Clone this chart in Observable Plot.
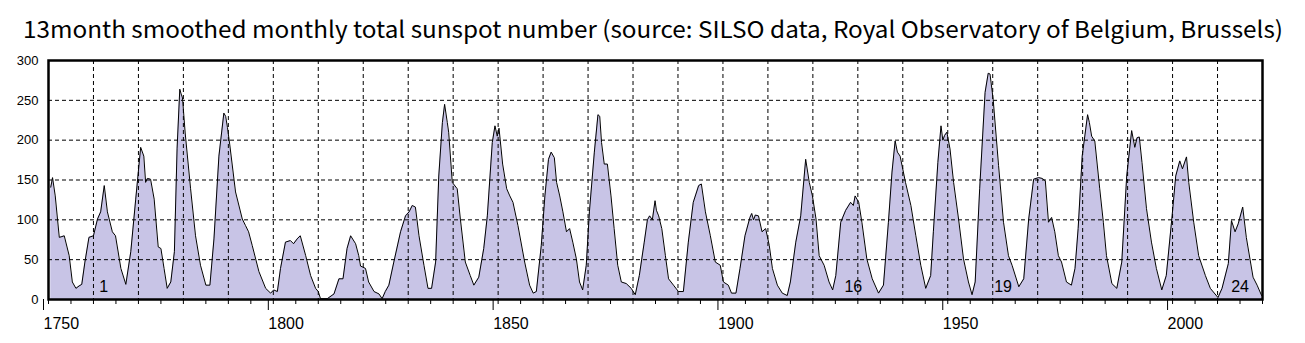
<!DOCTYPE html>
<html><head><meta charset="utf-8">
<script src="https://cdn.jsdelivr.net/npm/d3@7"></script>
<script src="https://cdn.jsdelivr.net/npm/@observablehq/plot@0.6"></script>
<style>body{margin:0;background:#fff} svg{display:block}</style>
</head><body>
<svg id="title" width="1305" height="50"><text x="23" y="38" textLength="1260" lengthAdjust="spacingAndGlyphs" font-family="Noto Sans CJK JP" font-size="23" fill="#000">13month smoothed monthly total sunspot number (source: SILSO data, Royal Observatory of Belgium, Brussels)</text></svg>
<div id="chart"></div>
<script>
const years = [
1750.5,1750.9,1751.5,1752.4,1753.0,1753.5,1754.6,1755.3,1756.1,1756.8,1757.4,1758.1,1759.0,1760.0,1760.9,1761.6,1762.4,1763.1,1764.2,1764.9,
1766.1,1767.2,1768.3,1769.4,1770.5,1771.2,1771.6,1772.0,1772.7,1773.5,1774.4,1775.0,1775.7,1776.4,1777.2,1778.0,1778.6,1779.2,1779.5,1779.8,
1780.4,1781.6,1782.7,1783.8,1785.0,1785.9,1786.8,1787.9,1789.0,1789.4,1789.8,1790.3,1791.6,1793.1,1793.8,1794.5,1795.3,1796.8,1798.3,1799.4,
1800.1,1800.9,1801.6,1802.7,1803.8,1804.5,1805.3,1806.0,1807.2,1808.3,1809.4,1810.0,1810.5,1812.0,1813.5,1814.6,1815.5,1816.4,1817.2,1818.3,
1819.0,1819.4,1820.5,1821.2,1822.4,1823.5,1824.2,1824.9,1825.7,1826.8,1828.3,1829.4,1830.2,1830.9,1831.6,1832.4,1833.5,1834.4,1835.2,1836.1,
1836.8,1837.6,1838.1,1838.7,1839.0,1839.8,1840.9,1841.6,1842.7,1843.8,1844.6,1845.7,1846.8,1847.6,1848.7,1849.3,1849.8,1850.2,1851.0,1851.9,
1852.6,1853.3,1854.4,1855.9,1857.0,1857.8,1858.5,1859.6,1860.4,1861.2,1861.8,1862.5,1863.0,1863.7,1864.4,1865.2,1865.9,1866.6,1867.4,1868.1,
1868.8,1869.6,1870.3,1871.4,1872.2,1872.6,1873.0,1873.6,1874.3,1875.1,1875.8,1876.6,1877.4,1878.5,1879.6,1880.5,1881.4,1882.5,1883.2,1883.7,
1884.3,1884.9,1885.2,1885.7,1886.4,1887.2,1887.9,1889.0,1890.1,1891.2,1892.3,1893.4,1894.6,1895.2,1896.1,1897.2,1898.3,1899.4,1900.1,1901.2,
1901.9,1902.9,1903.8,1904.9,1906.0,1906.4,1906.8,1907.2,1907.9,1908.7,1909.5,1910.3,1911.0,1912.1,1913.2,1914.3,1915.0,1916.2,1917.3,1918.4,
1919.2,1919.9,1920.7,1921.4,1922.5,1923.6,1924.4,1925.1,1926.2,1927.3,1928.4,1929.0,1929.4,1930.2,1930.9,1932.0,1933.2,1934.6,1935.7,1936.8,
1937.6,1938.3,1938.8,1939.4,1940.6,1941.8,1942.9,1944.0,1945.1,1946.2,1946.8,1947.8,1948.5,1948.9,1949.3,1949.8,1950.5,1951.3,1952.4,1953.5,
1954.6,1955.4,1956.1,1957.1,1958.3,1959.0,1959.4,1960.1,1961.3,1962.4,1963.5,1964.3,1965.8,1966.9,1968.0,1969.1,1970.2,1971.0,1971.7,1972.4,
1973.1,1973.8,1974.6,1975.3,1976.4,1977.5,1978.3,1979.0,1979.9,1981.1,1981.5,1982.0,1982.7,1983.8,1984.6,1985.3,1986.5,1987.6,1988.7,1989.8,
1990.9,1991.6,1992.1,1992.6,1993.2,1994.2,1995.3,1996.4,1997.6,1998.6,1999.9,2000.7,2001.6,2002.2,2003.1,2003.6,2004.7,2005.8,2007.3,2008.4,
2010.1,2011.0,2012.4,2013.1,2013.9,2014.6,2015.6,2016.4,2017.9,2018.8,2019.8
];
const ssn = [
141,153,130,78,79,80,55,22,14,17,19,47,78,80,101,110,143,110,85,80,
39,19,60,126,191,180,147,152,151,126,66,64,39,14,22,60,190,264,258,253,
209,139,80,43,18,18,76,180,234,230,216,195,135,101,93,85,68,35,14,8,
12,10,39,72,74,70,76,80,55,30,14,10,1,1,7,26,26,64,80,70,
55,42,39,22,10,7,1,10,18,47,85,105,110,118,116,80,43,14,14,47,
155,222,245,222,210,147,139,101,47,30,18,28,64,105,197,218,205,215,170,139,
130,122,93,47,18,8,10,68,130,176,185,178,147,130,110,85,89,72,51,22,
12,43,110,185,232,230,197,170,170,130,89,43,22,20,14,6,30,72,100,105,
100,124,112,105,89,55,26,18,10,10,72,122,143,145,110,80,47,43,22,18,
8,8,39,80,103,108,100,106,105,85,89,68,39,18,8,5,22,72,105,176,
147,130,101,55,43,22,12,30,97,112,122,118,130,122,97,51,26,8,18,97,
160,199,185,180,147,118,80,43,14,30,85,172,218,200,206,210,189,147,101,51,
22,6,22,139,260,284,283,251,168,97,55,43,16,26,101,151,153,152,149,97,
103,85,55,47,22,18,39,89,180,232,222,205,199,139,97,55,20,14,47,155,
212,191,203,204,172,114,72,39,12,30,105,155,174,164,179,147,97,55,30,14,
2.5,14,45,99,85,95,116,78,28,18,5
];
const yTicks = [0, 50, 100, 150, 200, 250, 300];
const yGrid = [50, 100, 150, 200, 250];
const xGrid = d3.range(1760, 2020, 10);
const xMinorTicks = d3.range(1750, 2021, 5);
const xMajorTicks = [1750, 1800, 1850, 1900, 1950, 2000];
const cycleLabels = ["1", "16", "19", "24"];
const cycleYears = [1762.3, 1929.0, 1962.3, 2015.0];
const cycleY = [16, 16, 16, 16];

const data = years.map((y, i) => ({year: y, ssn: ssn[i]}));
const cycles = cycleLabels.map((t, i) => ({t, year: cycleYears[i], y: cycleY[i]}));
const dash = "4,3";

const chart = Plot.plot({
  width: 1305,
  height: 293,
  marginTop: 10,
  marginBottom: 44,
  marginLeft: 48,
  marginRight: 43,
  style: {fontFamily: "Liberation Sans", color: "black", background: "white", overflow: "visible"},
  x: {domain: [1750, 2020], axis: null},
  y: {domain: [0, 300], axis: null},
  marks: [
    Plot.areaY(data, {x: "year", y: "ssn", fill: "#c8c4e6"}),
    Plot.ruleX(xGrid, {stroke: "black", strokeWidth: 1, strokeDasharray: dash}),
    Plot.ruleY(yGrid, {stroke: "black", strokeWidth: 1, strokeDasharray: dash}),
    Plot.lineY(data, {x: "year", y: "ssn", stroke: "black", strokeWidth: 1}),
    Plot.text(cycles, {x: "year", y: "y", text: "t", fontSize: 16, fill: "black"}),
    Plot.frame({stroke: "black", strokeWidth: 2.5}),
    Plot.axisY(yTicks, {tickSize: 0, tickPadding: 10, fontSize: 13, label: null}),
    Plot.axisX(xMinorTicks, {tickSize: 5, tickFormat: () => "", label: null}),
    Plot.axisX(xMajorTicks, {tickSize: 11, tickPadding: 7, fontSize: 16, textAnchor: "start", dx: -5, tickFormat: d => String(d), label: null})
  ]
});
document.getElementById("chart").appendChild(chart);
</script>
</body></html>
